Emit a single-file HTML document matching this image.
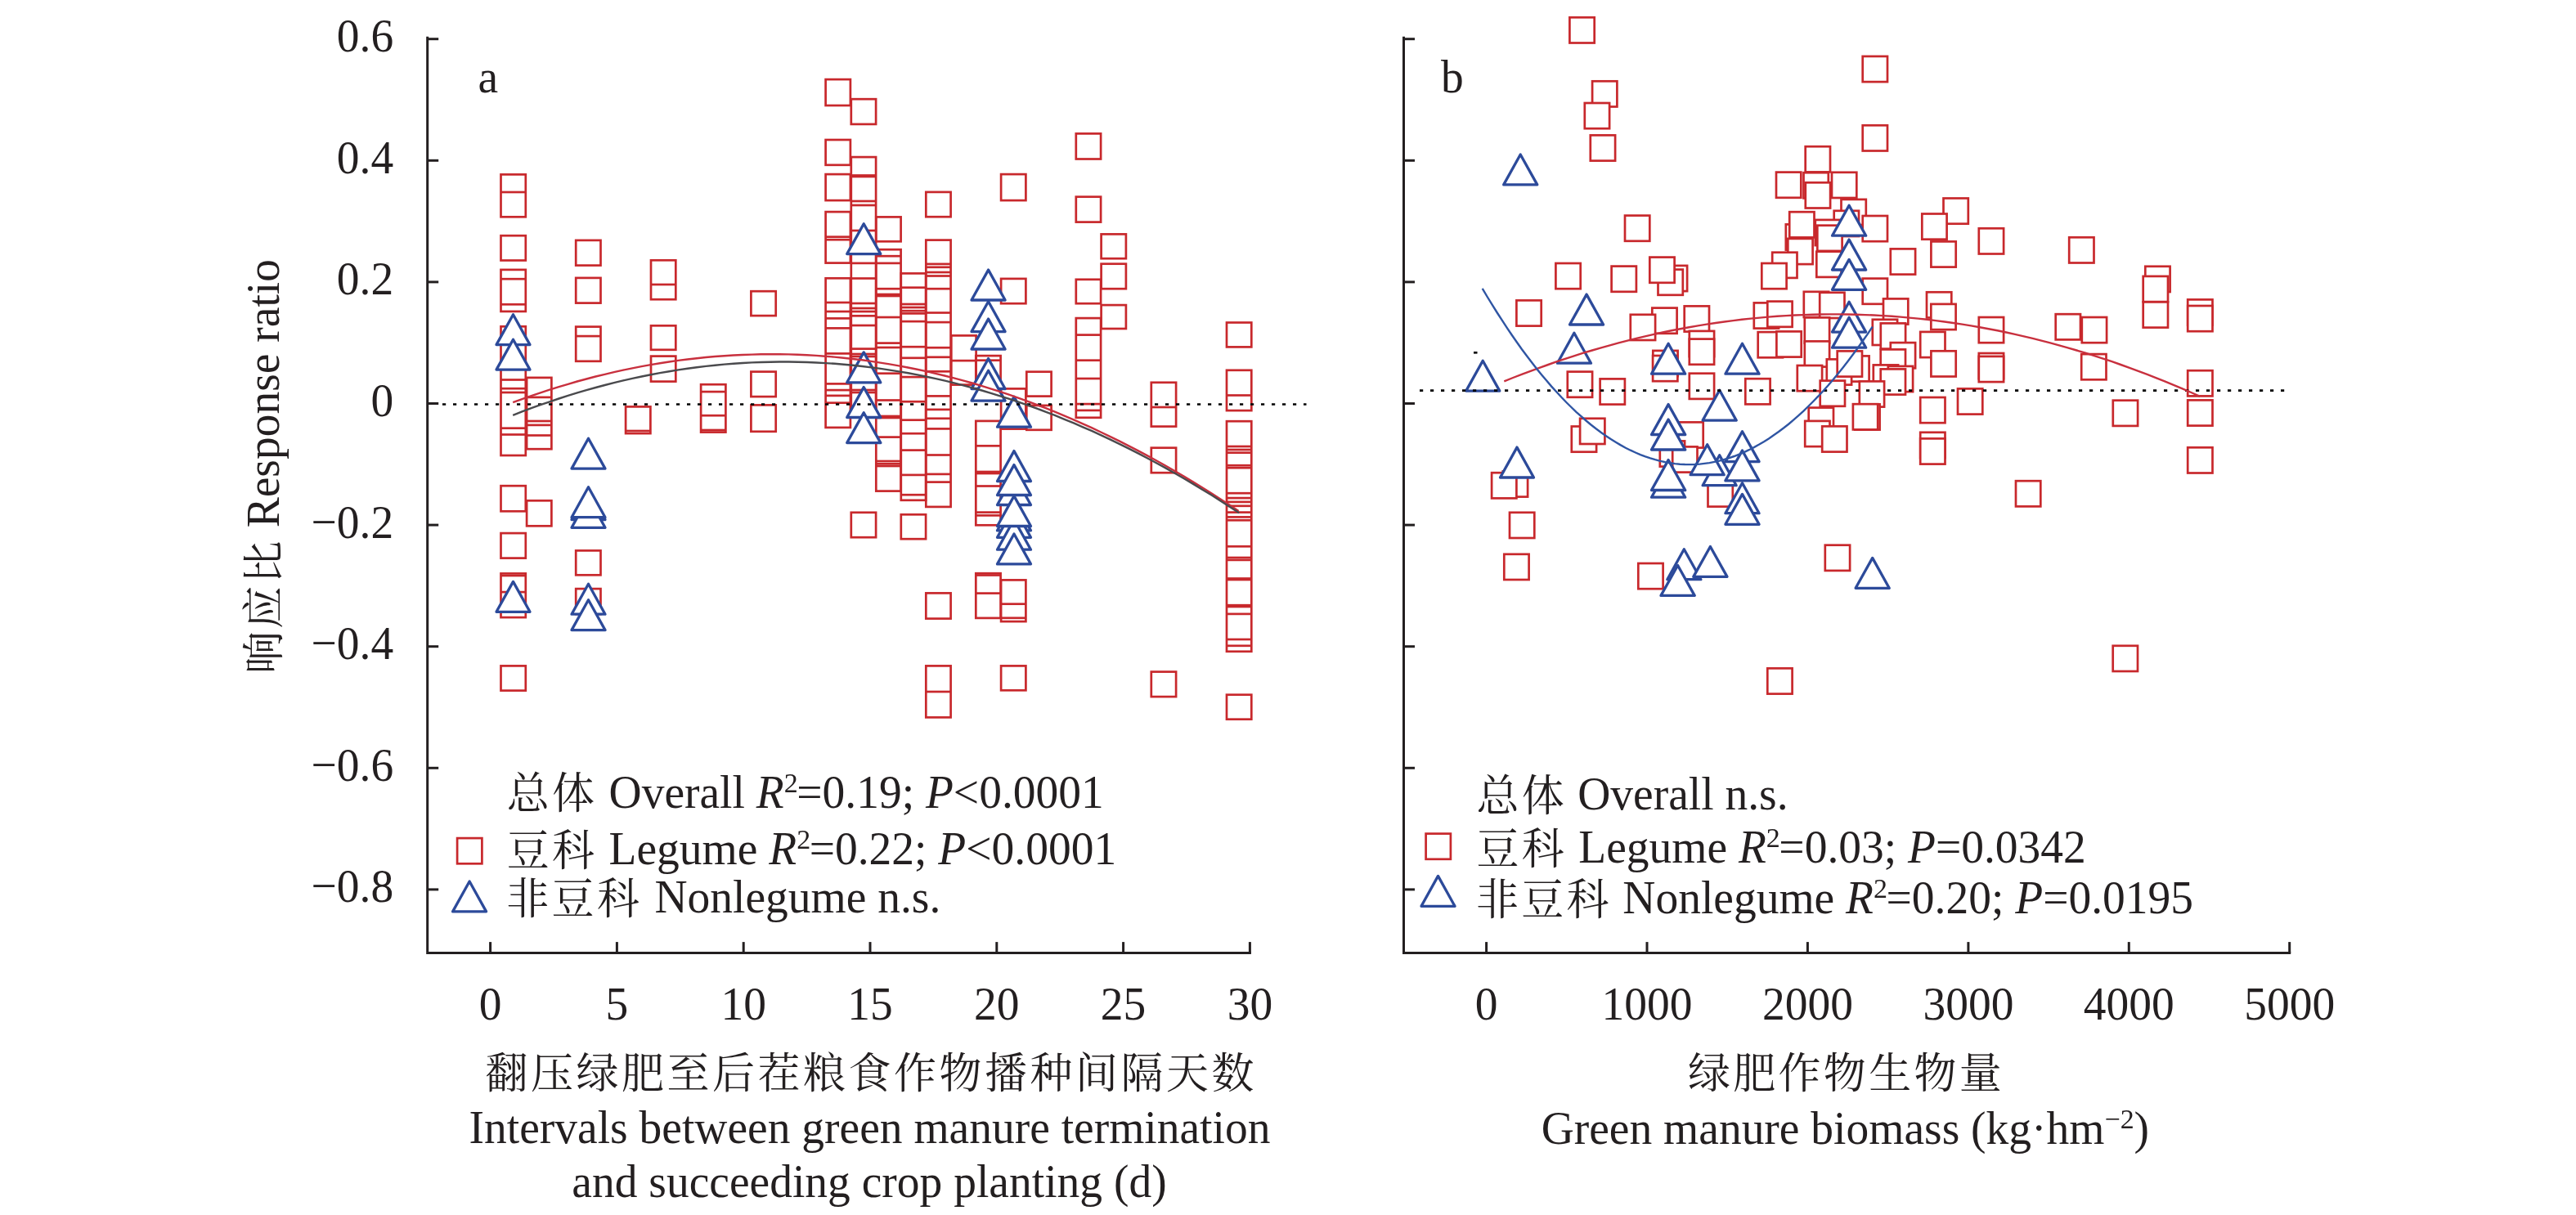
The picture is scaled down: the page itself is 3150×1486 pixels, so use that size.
<!DOCTYPE html>
<html><head><meta charset="utf-8"><title>Response ratio scatter plots</title>
<style>
html,body{margin:0;padding:0;background:#fff;}
svg{display:block;}
text{-webkit-font-smoothing:antialiased;}
svg{will-change:transform;}
.t{font-family:'Liberation Serif', 'Noto Serif CJK SC', serif;font-size:55.5px;fill:#231f20;}
.cjk{font-family:'Noto Serif CJK SC',serif;font-size:52px;letter-spacing:3.3px;}
</style></head><body>
<svg xmlns="http://www.w3.org/2000/svg" width="3150" height="1486" viewBox="0 0 3150 1486">
<rect width="3150" height="1486" fill="#fff"/>
<path d="M522.7 46.2 V1165.6 H1528.4" fill="none" stroke="#231f20" stroke-width="3.0" stroke-linecap="square"/>
<line x1="522.7" y1="47.7" x2="536.2" y2="47.7" stroke="#231f20" stroke-width="3.0"/>
<line x1="522.7" y1="196.3" x2="536.2" y2="196.3" stroke="#231f20" stroke-width="3.0"/>
<line x1="522.7" y1="344.9" x2="536.2" y2="344.9" stroke="#231f20" stroke-width="3.0"/>
<line x1="522.7" y1="493.5" x2="536.2" y2="493.5" stroke="#231f20" stroke-width="3.0"/>
<line x1="522.7" y1="642.1" x2="536.2" y2="642.1" stroke="#231f20" stroke-width="3.0"/>
<line x1="522.7" y1="790.7" x2="536.2" y2="790.7" stroke="#231f20" stroke-width="3.0"/>
<line x1="522.7" y1="939.3" x2="536.2" y2="939.3" stroke="#231f20" stroke-width="3.0"/>
<line x1="522.7" y1="1087.9" x2="536.2" y2="1087.9" stroke="#231f20" stroke-width="3.0"/>
<line x1="599.6" y1="1165.6" x2="599.6" y2="1152.1" stroke="#231f20" stroke-width="3.0"/>
<line x1="754.4" y1="1165.6" x2="754.4" y2="1152.1" stroke="#231f20" stroke-width="3.0"/>
<line x1="909.2" y1="1165.6" x2="909.2" y2="1152.1" stroke="#231f20" stroke-width="3.0"/>
<line x1="1064.0" y1="1165.6" x2="1064.0" y2="1152.1" stroke="#231f20" stroke-width="3.0"/>
<line x1="1218.8" y1="1165.6" x2="1218.8" y2="1152.1" stroke="#231f20" stroke-width="3.0"/>
<line x1="1373.6" y1="1165.6" x2="1373.6" y2="1152.1" stroke="#231f20" stroke-width="3.0"/>
<line x1="1528.4" y1="1165.6" x2="1528.4" y2="1152.1" stroke="#231f20" stroke-width="3.0"/>
<path d="M1716.5 46.2 V1165.6 H2799.7" fill="none" stroke="#231f20" stroke-width="3.0" stroke-linecap="square"/>
<line x1="1716.5" y1="47.7" x2="1730.0" y2="47.7" stroke="#231f20" stroke-width="3.0"/>
<line x1="1716.5" y1="196.3" x2="1730.0" y2="196.3" stroke="#231f20" stroke-width="3.0"/>
<line x1="1716.5" y1="344.9" x2="1730.0" y2="344.9" stroke="#231f20" stroke-width="3.0"/>
<line x1="1716.5" y1="493.5" x2="1730.0" y2="493.5" stroke="#231f20" stroke-width="3.0"/>
<line x1="1716.5" y1="642.1" x2="1730.0" y2="642.1" stroke="#231f20" stroke-width="3.0"/>
<line x1="1716.5" y1="790.7" x2="1730.0" y2="790.7" stroke="#231f20" stroke-width="3.0"/>
<line x1="1716.5" y1="939.3" x2="1730.0" y2="939.3" stroke="#231f20" stroke-width="3.0"/>
<line x1="1716.5" y1="1087.9" x2="1730.0" y2="1087.9" stroke="#231f20" stroke-width="3.0"/>
<line x1="1817.6" y1="1165.6" x2="1817.6" y2="1152.1" stroke="#231f20" stroke-width="3.0"/>
<line x1="2014.0" y1="1165.6" x2="2014.0" y2="1152.1" stroke="#231f20" stroke-width="3.0"/>
<line x1="2210.4" y1="1165.6" x2="2210.4" y2="1152.1" stroke="#231f20" stroke-width="3.0"/>
<line x1="2406.9" y1="1165.6" x2="2406.9" y2="1152.1" stroke="#231f20" stroke-width="3.0"/>
<line x1="2603.3" y1="1165.6" x2="2603.3" y2="1152.1" stroke="#231f20" stroke-width="3.0"/>
<line x1="2799.7" y1="1165.6" x2="2799.7" y2="1152.1" stroke="#231f20" stroke-width="3.0"/>
<text x="481.2" y="63.2" text-anchor="end" class="t" transform="matrix(1 0 0 1.045 0 -2.84)">0.6</text>
<text x="481.2" y="211.8" text-anchor="end" class="t" transform="matrix(1 0 0 1.045 0 -9.53)">0.4</text>
<text x="481.2" y="360.4" text-anchor="end" class="t" transform="matrix(1 0 0 1.045 0 -16.22)">0.2</text>
<text x="481.2" y="509.0" text-anchor="end" class="t" transform="matrix(1 0 0 1.045 0 -22.90)">0</text>
<text x="481.2" y="657.6" text-anchor="end" class="t" transform="matrix(1 0 0 1.045 0 -29.59)">−0.2</text>
<text x="481.2" y="806.2" text-anchor="end" class="t" transform="matrix(1 0 0 1.045 0 -36.28)">−0.4</text>
<text x="481.2" y="954.8" text-anchor="end" class="t" transform="matrix(1 0 0 1.045 0 -42.97)">−0.6</text>
<text x="481.2" y="1103.4" text-anchor="end" class="t" transform="matrix(1 0 0 1.045 0 -49.65)">−0.8</text>
<text x="599.6" y="1247.0" text-anchor="middle" class="t" transform="matrix(1 0 0 1.045 0 -56.11)">0</text>
<text x="754.4" y="1247.0" text-anchor="middle" class="t" transform="matrix(1 0 0 1.045 0 -56.11)">5</text>
<text x="909.2" y="1247.0" text-anchor="middle" class="t" transform="matrix(1 0 0 1.045 0 -56.11)">10</text>
<text x="1064.0" y="1247.0" text-anchor="middle" class="t" transform="matrix(1 0 0 1.045 0 -56.11)">15</text>
<text x="1218.8" y="1247.0" text-anchor="middle" class="t" transform="matrix(1 0 0 1.045 0 -56.11)">20</text>
<text x="1373.6" y="1247.0" text-anchor="middle" class="t" transform="matrix(1 0 0 1.045 0 -56.11)">25</text>
<text x="1528.4" y="1247.0" text-anchor="middle" class="t" transform="matrix(1 0 0 1.045 0 -56.11)">30</text>
<text x="1817.6" y="1247.0" text-anchor="middle" class="t" transform="matrix(1 0 0 1.045 0 -56.11)">0</text>
<text x="2014.0" y="1247.0" text-anchor="middle" class="t" transform="matrix(1 0 0 1.045 0 -56.11)">1000</text>
<text x="2210.4" y="1247.0" text-anchor="middle" class="t" transform="matrix(1 0 0 1.045 0 -56.11)">2000</text>
<text x="2406.9" y="1247.0" text-anchor="middle" class="t" transform="matrix(1 0 0 1.045 0 -56.11)">3000</text>
<text x="2603.3" y="1247.0" text-anchor="middle" class="t" transform="matrix(1 0 0 1.045 0 -56.11)">4000</text>
<text x="2799.7" y="1247.0" text-anchor="middle" class="t" transform="matrix(1 0 0 1.045 0 -56.11)">5000</text>
<text x="584.5" y="113.0" class="t" transform="matrix(1 0 0 1.045 0 -5.08)">a</text>
<text x="1762.0" y="113.0" class="t" transform="matrix(1 0 0 1.045 0 -5.08)">b</text>
<text transform="translate(340.5 824) rotate(-90) scale(1 1.01)" class="t"><tspan class="cjk">响应比</tspan><tspan dx="-1.0"> Response ratio</tspan></text>
<text x="1065.3" y="1331.0" text-anchor="middle" class="t" transform="matrix(1 0 0 1.0 0 -0.00)"><tspan class="cjk" style="letter-spacing:3.5px">翻压绿肥至后茬粮食作物播种间隔天数</tspan></text>
<text x="1063.5" y="1398.5" text-anchor="middle" class="t" transform="matrix(1 0 0 1.01 0 -13.99)">Intervals between green manure termination</text>
<text x="1063.0" y="1464.5" text-anchor="middle" class="t" transform="matrix(1 0 0 1.01 0 -14.65)">and succeeding crop planting (d)</text>
<text x="2257.5" y="1331.0" text-anchor="middle" class="t" transform="matrix(1 0 0 1.0 0 -0.00)"><tspan class="cjk">绿肥作物生物量</tspan></text>
<text x="2256.4" y="1399.0" text-anchor="middle" class="t" transform="matrix(1 0 0 1.01 0 -13.99)">Green manure biomass (kg·hm<tspan dy="-18.5" font-size="34">−2</tspan><tspan dy="18.5">)</tspan></text>
<text x="619.8" y="988.0" class="t" transform="matrix(1 0 0 1.02 0 -19.76)"><tspan class="cjk" dy="1">总体</tspan><tspan dx="0.3" dy="-1"> Overall </tspan><tspan font-style="italic">R</tspan><tspan dy="-19" font-size="34">2</tspan><tspan dy="19" dx="-1.5">=0.19; <tspan font-style="italic">P</tspan>&lt;0.0001</tspan></text>
<text x="619.8" y="1057.5" class="t" transform="matrix(1 0 0 1.02 0 -21.15)"><tspan class="cjk" dy="1">豆科</tspan><tspan dx="0.3" dy="-1"> Legume </tspan><tspan font-style="italic">R</tspan><tspan dy="-19" font-size="34">2</tspan><tspan dy="19" dx="-1.5">=0.22; <tspan font-style="italic">P</tspan>&lt;0.0001</tspan></text>
<text x="619.3" y="1116.5" class="t" transform="matrix(1 0 0 1.02 0 -22.33)"><tspan class="cjk" dy="1">非豆科</tspan><tspan dx="1.4" dy="-1"> Nonlegume n.s.</tspan></text>
<text x="1805.5" y="990.5" class="t" transform="matrix(1 0 0 1.02 0 -19.81)"><tspan class="cjk" dy="1">总体</tspan><tspan dx="-0.7" dy="-1"> Overall n.s.</tspan></text>
<text x="1805.5" y="1055.5" class="t" transform="matrix(1 0 0 1.02 0 -21.11)"><tspan class="cjk" dy="1">豆科</tspan><tspan dx="0.3" dy="-1"> Legume </tspan><tspan font-style="italic">R</tspan><tspan dy="-19" font-size="34">2</tspan><tspan dy="19" dx="-1.5">=0.03; <tspan font-style="italic">P</tspan>=0.0342</tspan></text>
<text x="1805.0" y="1117.5" class="t" transform="matrix(1 0 0 1.02 0 -22.35)"><tspan class="cjk" dy="1">非豆科</tspan><tspan dx="-0.4" dy="-1"> Nonlegume </tspan><tspan font-style="italic">R</tspan><tspan dy="-19" font-size="34">2</tspan><tspan dy="19" dx="-1.5">=0.20; <tspan font-style="italic">P</tspan>=0.0195</tspan></text>
<g fill="none" stroke="#c8282c" stroke-width="2.7"><rect x="612.5" y="213.4" width="30.3" height="51.9"/><path d="M612.5 235.0H642.8"/><rect x="612.5" y="288.2" width="30.3" height="30.3"/><rect x="612.5" y="329.9" width="30.3" height="51.0"/><path d="M612.5 341.2H642.8"/><path d="M612.5 372.3H642.8"/><rect x="612.5" y="399.3" width="30.3" height="157.7"/><path d="M612.5 464.5H642.8"/><path d="M612.5 475.2H642.8"/><path d="M612.5 480.0H642.8"/><path d="M612.5 523.7H642.8"/><path d="M612.5 531.5H642.8"/><rect x="612.5" y="594.2" width="30.3" height="31.1"/><rect x="612.5" y="652.1" width="30.3" height="30.5"/><rect x="612.5" y="701.4" width="30.3" height="53.7"/><path d="M612.5 704.0H642.8"/><path d="M612.5 724.1H642.8"/><rect x="612.5" y="814.4" width="30.3" height="30.2"/></g>
<g fill="none" stroke="#c8282c" stroke-width="2.7"><rect x="644.1" y="461.9" width="30.3" height="87.3"/><path d="M644.1 485.9H674.4"/><path d="M644.1 515.0H674.4"/><path d="M644.1 519.9H674.4"/><path d="M644.1 532.5H674.4"/><rect x="644.1" y="612.3" width="30.3" height="31.0"/></g>
<g fill="none" stroke="#c8282c" stroke-width="2.7"><rect x="704.2" y="293.9" width="30.3" height="30.7"/><rect x="704.2" y="339.9" width="30.3" height="30.7"/><rect x="704.2" y="399.6" width="30.3" height="42.2"/><path d="M704.2 411.1H734.5"/><rect x="704.2" y="673.4" width="30.3" height="29.9"/><rect x="704.2" y="720.1" width="30.3" height="31.0"/></g>
<g fill="none" stroke="#c8282c" stroke-width="2.7"><rect x="765.1" y="497.4" width="30.3" height="32.7"/><path d="M765.1 527.0H795.4"/></g>
<g fill="none" stroke="#c8282c" stroke-width="2.7"><rect x="796.0" y="318.3" width="30.3" height="47.9"/><path d="M796.0 348.0H826.2"/><rect x="796.0" y="398.3" width="30.3" height="29.5"/><rect x="796.0" y="435.6" width="30.3" height="31.0"/></g>
<g fill="none" stroke="#c8282c" stroke-width="2.7"><rect x="857.1" y="470.2" width="30.3" height="58.4"/><path d="M857.1 479.1H887.4"/><path d="M857.1 508.2H887.4"/><path d="M857.1 526.0H887.4"/></g>
<g fill="none" stroke="#c8282c" stroke-width="2.7"><rect x="918.4" y="356.2" width="30.3" height="29.9"/><rect x="918.4" y="454.6" width="30.3" height="30.5"/><rect x="918.4" y="495.4" width="30.3" height="32.4"/></g>
<g fill="none" stroke="#c8282c" stroke-width="2.7"><rect x="1009.6" y="97.1" width="30.3" height="31.9"/><rect x="1009.6" y="171.0" width="30.3" height="30.8"/><rect x="1009.6" y="213.1" width="30.3" height="32.0"/><rect x="1009.6" y="259.1" width="30.3" height="62.5"/><path d="M1009.6 289.7H1040.0"/><path d="M1009.6 293.2H1040.0"/><rect x="1009.6" y="340.3" width="30.3" height="182.6"/><path d="M1009.6 370.0H1040.0"/><path d="M1009.6 381.0H1040.0"/><path d="M1009.6 389.4H1040.0"/><path d="M1009.6 401.4H1040.0"/><path d="M1009.6 432.4H1040.0"/><path d="M1009.6 469.4H1040.0"/><path d="M1009.6 477.1H1040.0"/><path d="M1009.6 483.9H1040.0"/><path d="M1009.6 492.7H1040.0"/></g>
<g fill="none" stroke="#c8282c" stroke-width="2.7"><rect x="1040.8" y="121.2" width="30.3" height="30.7"/><rect x="1040.8" y="192.1" width="30.3" height="318.5"/><path d="M1040.8 214.5H1071.1"/><path d="M1040.8 216.0H1071.1"/><path d="M1040.8 246.0H1071.1"/><path d="M1040.8 251.0H1071.1"/><path d="M1040.8 282.0H1071.1"/><path d="M1040.8 309.3H1071.1"/><path d="M1040.8 321.9H1071.1"/><path d="M1040.8 340.5H1071.1"/><path d="M1040.8 371.0H1071.1"/><path d="M1040.8 377.0H1071.1"/><path d="M1040.8 381.0H1071.1"/><path d="M1040.8 386.3H1071.1"/><path d="M1040.8 398.0H1071.1"/><path d="M1040.8 426.6H1071.1"/><path d="M1040.8 433.0H1071.1"/><path d="M1040.8 436.0H1071.1"/><path d="M1040.8 477.0H1071.1"/><path d="M1040.8 480.0H1071.1"/><rect x="1040.8" y="626.8" width="30.3" height="30.4"/></g>
<g fill="none" stroke="#c8282c" stroke-width="2.7"><rect x="1071.3" y="265.4" width="30.3" height="29.9"/><rect x="1071.3" y="305.2" width="30.3" height="295.4"/><path d="M1071.3 313.2H1101.7"/><path d="M1071.3 321.9H1101.7"/><path d="M1071.3 353.2H1101.7"/><path d="M1071.3 360.0H1101.7"/><path d="M1071.3 362.0H1101.7"/><path d="M1071.3 388.0H1101.7"/><path d="M1071.3 419.6H1101.7"/><path d="M1071.3 425.0H1101.7"/><path d="M1071.3 456.7H1101.7"/><path d="M1071.3 489.5H1101.7"/><path d="M1071.3 509.0H1101.7"/><path d="M1071.3 511.0H1101.7"/><path d="M1071.3 534.6H1101.7"/><path d="M1071.3 564.0H1101.7"/><path d="M1071.3 567.3H1101.7"/><path d="M1071.3 570.0H1101.7"/></g>
<g fill="none" stroke="#c8282c" stroke-width="2.7"><rect x="1101.8" y="334.4" width="30.3" height="277.4"/><path d="M1101.8 351.7H1132.2"/><path d="M1101.8 372.0H1132.2"/><path d="M1101.8 376.0H1132.2"/><path d="M1101.8 380.2H1132.2"/><path d="M1101.8 383.4H1132.2"/><path d="M1101.8 393.1H1132.2"/><path d="M1101.8 424.2H1132.2"/><path d="M1101.8 437.8H1132.2"/><path d="M1101.8 461.1H1132.2"/><path d="M1101.8 491.2H1132.2"/><path d="M1101.8 513.7H1132.2"/><path d="M1101.8 530.2H1132.2"/><path d="M1101.8 550.6H1132.2"/><path d="M1101.8 580.9H1132.2"/><path d="M1101.8 605.2H1132.2"/><rect x="1101.8" y="629.3" width="30.3" height="29.9"/></g>
<g fill="none" stroke="#c8282c" stroke-width="2.7"><rect x="1132.3" y="234.9" width="30.3" height="30.3"/><rect x="1132.3" y="293.6" width="30.3" height="326.3"/><path d="M1132.3 322.9H1162.7"/><path d="M1132.3 326.8H1162.7"/><path d="M1132.3 333.0H1162.7"/><path d="M1132.3 337.5H1162.7"/><path d="M1132.3 353.2H1162.7"/><path d="M1132.3 382.5H1162.7"/><path d="M1132.3 394.1H1162.7"/><path d="M1132.3 425.2H1162.7"/><path d="M1132.3 436.8H1162.7"/><path d="M1132.3 454.3H1162.7"/><path d="M1132.3 484.4H1162.7"/><path d="M1132.3 500.9H1162.7"/><path d="M1132.3 511.8H1162.7"/><path d="M1132.3 524.4H1162.7"/><path d="M1132.3 556.5H1162.7"/><path d="M1132.3 579.9H1162.7"/><path d="M1132.3 589.6H1162.7"/><rect x="1132.3" y="725.4" width="30.3" height="31.2"/><rect x="1132.3" y="814.4" width="30.3" height="63.0"/><path d="M1132.3 846.0H1162.7"/></g>
<g fill="none" stroke="#c8282c" stroke-width="2.7"><rect x="1163.3" y="410.4" width="30.3" height="60.2"/><path d="M1163.3 441.1H1193.7"/></g>
<g fill="none" stroke="#c8282c" stroke-width="2.7"><rect x="1193.3" y="435.1" width="30.3" height="35.5"/><path d="M1193.3 440.7H1223.7"/><rect x="1193.3" y="514.9" width="30.3" height="127.4"/><path d="M1193.3 545.3H1223.7"/><path d="M1193.3 577.0H1223.7"/><path d="M1193.3 579.0H1223.7"/><path d="M1193.3 594.5H1223.7"/><path d="M1193.3 626.6H1223.7"/><path d="M1193.3 630.4H1223.7"/><rect x="1193.3" y="701.2" width="30.3" height="54.7"/><path d="M1193.3 703.5H1223.7"/><path d="M1193.3 725.6H1223.7"/></g>
<g fill="none" stroke="#c8282c" stroke-width="2.7"><rect x="1224.1" y="213.1" width="30.3" height="32.0"/><rect x="1224.1" y="340.9" width="30.3" height="30.3"/><rect x="1224.1" y="475.4" width="30.3" height="49.2"/><rect x="1224.1" y="709.4" width="30.3" height="50.7"/><path d="M1224.1 738.7H1254.5"/><path d="M1224.1 755.8H1254.5"/><rect x="1224.1" y="814.4" width="30.3" height="29.9"/></g>
<g fill="none" stroke="#c8282c" stroke-width="2.7"><rect x="1255.3" y="454.7" width="30.3" height="29.9"/><rect x="1255.3" y="495.9" width="30.3" height="29.9"/></g>
<g fill="none" stroke="#c8282c" stroke-width="2.7"><rect x="1315.8" y="163.4" width="30.3" height="31.1"/><rect x="1315.8" y="240.7" width="30.3" height="30.9"/><rect x="1315.8" y="341.8" width="30.3" height="29.4"/><rect x="1315.8" y="389.1" width="30.3" height="121.7"/><path d="M1315.8 409.6H1346.1"/><path d="M1315.8 440.7H1346.1"/><path d="M1315.8 463.0H1346.1"/><path d="M1315.8 494.1H1346.1"/><path d="M1315.8 501.9H1346.1"/></g>
<g fill="none" stroke="#c8282c" stroke-width="2.7"><rect x="1346.6" y="286.4" width="30.3" height="29.8"/><rect x="1346.6" y="322.7" width="30.3" height="30.5"/><rect x="1346.6" y="373.1" width="30.3" height="28.9"/></g>
<g fill="none" stroke="#c8282c" stroke-width="2.7"><rect x="1407.8" y="467.8" width="30.3" height="53.8"/><path d="M1407.8 498.0H1438.2"/><rect x="1407.8" y="547.7" width="30.3" height="30.5"/><rect x="1407.8" y="821.6" width="30.3" height="30.5"/></g>
<g fill="none" stroke="#c8282c" stroke-width="2.7"><rect x="1500.0" y="394.5" width="30.3" height="29.9"/><rect x="1500.0" y="452.8" width="30.3" height="49.3"/><path d="M1500.0 483.5H1530.4"/><rect x="1500.0" y="515.2" width="30.3" height="281.6"/><path d="M1500.0 546.0H1530.4"/><path d="M1500.0 550.0H1530.4"/><path d="M1500.0 553.7H1530.4"/><path d="M1500.0 569.2H1530.4"/><path d="M1500.0 572.2H1530.4"/><path d="M1500.0 603.2H1530.4"/><path d="M1500.0 609.1H1530.4"/><path d="M1500.0 613.9H1530.4"/><path d="M1500.0 618.8H1530.4"/><path d="M1500.0 626.6H1530.4"/><path d="M1500.0 632.4H1530.4"/><path d="M1500.0 636.3H1530.4"/><path d="M1500.0 668.3H1530.4"/><path d="M1500.0 682.0H1530.4"/><path d="M1500.0 684.9H1530.4"/><path d="M1500.0 707.5H1530.4"/><path d="M1500.0 709.0H1530.4"/><path d="M1500.0 740.2H1530.4"/><path d="M1500.0 742.0H1530.4"/><path d="M1500.0 750.9H1530.4"/><path d="M1500.0 782.0H1530.4"/><path d="M1500.0 789.8H1530.4"/><rect x="1500.0" y="849.7" width="30.3" height="30.0"/></g>
<g fill="#fff" stroke="#2c4a9a" stroke-width="3.3" stroke-linejoin="round"><path d="M627.5 384.7L648.0 421.6H607.0Z"/><path d="M627.5 415.2L648.0 452.1H607.0Z"/><path d="M627.5 711.4L648.0 748.3H607.0Z"/><path d="M719.5 536.2L740.0 573.1H699.0Z"/><path d="M719.5 598.7L740.0 635.6H699.0Z"/><path d="M719.5 608.4L740.0 645.3H699.0Z"/><path d="M719.5 595.8L740.0 632.7H699.0Z"/><path d="M719.5 714.3L740.0 751.2H699.0Z"/><path d="M719.5 733.7L740.0 770.6H699.0Z"/><path d="M1056.2 273.7L1076.8 310.6H1035.7Z"/><path d="M1056.2 430.9L1076.8 467.8H1035.7Z"/><path d="M1056.2 473.6L1076.8 510.5H1035.7Z"/><path d="M1056.2 504.7L1076.8 541.6H1035.7Z"/><path d="M1208.6 330.1L1229.1 367.0H1188.0Z"/><path d="M1208.6 368.7L1229.1 405.6H1188.0Z"/><path d="M1208.6 390.1L1229.1 427.0H1188.0Z"/><path d="M1208.6 438.6L1229.1 475.5H1188.0Z"/><path d="M1208.6 453.2L1229.1 490.1H1188.0Z"/><path d="M1240.0 485.3L1260.5 522.2H1219.5Z"/><path d="M1240.0 551.6L1260.5 588.5H1219.5Z"/><path d="M1240.0 580.6L1260.5 617.5H1219.5Z"/><path d="M1240.0 568.6L1260.5 605.5H1219.5Z"/><path d="M1240.0 612.0L1260.5 648.9H1219.5Z"/><path d="M1240.0 620.4L1260.5 657.3H1219.5Z"/><path d="M1240.0 635.3L1260.5 672.2H1219.5Z"/><path d="M1240.0 606.6L1260.5 643.5H1219.5Z"/><path d="M1240.0 653.0L1260.5 689.9H1219.5Z"/></g>
<g fill="#fff" stroke="#c8282c" stroke-width="2.7"><rect x="1919.4" y="21.3" width="30.3" height="31.2"/></g>
<g fill="#fff" stroke="#c8282c" stroke-width="2.7"><rect x="2277.7" y="68.9" width="30.3" height="31.2"/></g>
<g fill="#fff" stroke="#c8282c" stroke-width="2.7"><rect x="1947.1" y="99.3" width="30.3" height="31.2"/></g>
<g fill="#fff" stroke="#c8282c" stroke-width="2.7"><rect x="1937.8" y="126.0" width="30.3" height="31.2"/></g>
<g fill="#fff" stroke="#c8282c" stroke-width="2.7"><rect x="2277.7" y="153.3" width="30.3" height="31.2"/></g>
<g fill="#fff" stroke="#c8282c" stroke-width="2.7"><rect x="1944.8" y="165.4" width="30.3" height="31.2"/></g>
<g fill="#fff" stroke="#c8282c" stroke-width="2.7"><rect x="2207.7" y="179.2" width="30.3" height="31.2"/></g>
<g fill="#fff" stroke="#c8282c" stroke-width="2.7"><rect x="2172.0" y="210.6" width="30.3" height="31.2"/></g>
<g fill="#fff" stroke="#c8282c" stroke-width="2.7"><rect x="2251.5" y="243.9" width="30.3" height="31.2"/></g>
<g fill="#fff" stroke="#c8282c" stroke-width="2.7"><rect x="2240.0" y="210.8" width="30.3" height="31.2"/></g>
<g fill="#fff" stroke="#c8282c" stroke-width="2.7"><rect x="2205.5" y="211.2" width="30.3" height="31.2"/></g>
<g fill="#fff" stroke="#c8282c" stroke-width="2.7"><rect x="2207.8" y="223.3" width="30.3" height="31.2"/></g>
<g fill="#fff" stroke="#c8282c" stroke-width="2.7"><rect x="2242.7" y="257.8" width="30.3" height="31.2"/></g>
<g fill="#fff" stroke="#c8282c" stroke-width="2.7"><rect x="2376.5" y="242.5" width="30.3" height="31.2"/></g>
<g fill="#fff" stroke="#c8282c" stroke-width="2.7"><rect x="2350.3" y="261.5" width="30.3" height="31.2"/></g>
<g fill="#fff" stroke="#c8282c" stroke-width="2.7"><rect x="2183.8" y="274.4" width="30.3" height="31.2"/></g>
<g fill="#fff" stroke="#c8282c" stroke-width="2.7"><rect x="2188.2" y="259.2" width="30.3" height="31.2"/></g>
<g fill="#fff" stroke="#c8282c" stroke-width="2.7"><rect x="1987.0" y="263.6" width="30.3" height="31.2"/></g>
<g fill="#fff" stroke="#c8282c" stroke-width="2.7"><rect x="2277.7" y="264.0" width="30.3" height="31.2"/></g>
<g fill="#fff" stroke="#c8282c" stroke-width="2.7"><rect x="2219.8" y="268.9" width="30.3" height="31.2"/></g>
<g fill="#fff" stroke="#c8282c" stroke-width="2.7"><rect x="2222.3" y="275.7" width="30.3" height="31.2"/></g>
<g fill="#fff" stroke="#c8282c" stroke-width="2.7"><rect x="2419.8" y="279.3" width="30.3" height="31.2"/></g>
<g fill="#fff" stroke="#c8282c" stroke-width="2.7"><rect x="2530.2" y="290.3" width="30.3" height="31.2"/></g>
<g fill="#fff" stroke="#c8282c" stroke-width="2.7"><rect x="2186.3" y="291.9" width="30.3" height="31.2"/></g>
<g fill="#fff" stroke="#c8282c" stroke-width="2.7"><rect x="2361.4" y="295.4" width="30.3" height="31.2"/></g>
<g fill="#fff" stroke="#c8282c" stroke-width="2.7"><rect x="2311.8" y="304.4" width="30.3" height="31.2"/></g>
<g fill="#fff" stroke="#c8282c" stroke-width="2.7"><rect x="2221.3" y="307.7" width="30.3" height="31.2"/></g>
<g fill="#fff" stroke="#c8282c" stroke-width="2.7"><rect x="2167.2" y="308.7" width="30.3" height="31.2"/></g>
<g fill="#fff" stroke="#c8282c" stroke-width="2.7"><rect x="2154.3" y="322.0" width="30.3" height="31.2"/></g>
<g fill="#fff" stroke="#c8282c" stroke-width="2.7"><rect x="1902.4" y="322.0" width="30.3" height="31.2"/></g>
<g fill="#fff" stroke="#c8282c" stroke-width="2.7"><rect x="1970.6" y="325.6" width="30.3" height="31.2"/></g>
<g fill="#fff" stroke="#c8282c" stroke-width="2.7"><rect x="2032.8" y="324.9" width="30.3" height="31.2"/></g>
<g fill="#fff" stroke="#c8282c" stroke-width="2.7"><rect x="2027.5" y="329.6" width="30.3" height="31.2"/></g>
<g fill="#fff" stroke="#c8282c" stroke-width="2.7"><rect x="2017.3" y="314.6" width="30.3" height="31.2"/></g>
<g fill="#fff" stroke="#c8282c" stroke-width="2.7"><rect x="2623.3" y="325.8" width="30.3" height="31.2"/></g>
<g fill="#fff" stroke="#c8282c" stroke-width="2.7"><rect x="2620.7" y="337.9" width="30.3" height="31.2"/></g>
<g fill="#fff" stroke="#c8282c" stroke-width="2.7"><rect x="2277.7" y="340.6" width="30.3" height="31.2"/></g>
<g fill="#fff" stroke="#c8282c" stroke-width="2.7"><rect x="2205.8" y="356.8" width="30.3" height="31.2"/></g>
<g fill="#fff" stroke="#c8282c" stroke-width="2.7"><rect x="2225.2" y="357.8" width="30.3" height="31.2"/></g>
<g fill="#fff" stroke="#c8282c" stroke-width="2.7"><rect x="2356.0" y="357.3" width="30.3" height="31.2"/></g>
<g fill="#fff" stroke="#c8282c" stroke-width="2.7"><rect x="2675.2" y="366.4" width="30.3" height="31.2"/></g>
<g fill="#fff" stroke="#c8282c" stroke-width="2.7"><rect x="2675.2" y="374.0" width="30.3" height="31.2"/></g>
<g fill="#fff" stroke="#c8282c" stroke-width="2.7"><rect x="2303.0" y="365.4" width="30.3" height="31.2"/></g>
<g fill="#fff" stroke="#c8282c" stroke-width="2.7"><rect x="1854.4" y="367.4" width="30.3" height="31.2"/></g>
<g fill="#fff" stroke="#c8282c" stroke-width="2.7"><rect x="2620.7" y="369.4" width="30.3" height="31.2"/></g>
<g fill="#fff" stroke="#c8282c" stroke-width="2.7"><rect x="2144.8" y="370.4" width="30.3" height="31.2"/></g>
<g fill="#fff" stroke="#c8282c" stroke-width="2.7"><rect x="2161.3" y="368.6" width="30.3" height="31.2"/></g>
<g fill="#fff" stroke="#c8282c" stroke-width="2.7"><rect x="2361.3" y="371.9" width="30.3" height="31.2"/></g>
<g fill="#fff" stroke="#c8282c" stroke-width="2.7"><rect x="2059.7" y="374.4" width="30.3" height="31.2"/></g>
<g fill="#fff" stroke="#c8282c" stroke-width="2.7"><rect x="2020.3" y="376.6" width="30.3" height="31.2"/></g>
<g fill="#fff" stroke="#c8282c" stroke-width="2.7"><rect x="2513.7" y="384.2" width="30.3" height="31.2"/></g>
<g fill="#fff" stroke="#c8282c" stroke-width="2.7"><rect x="1993.8" y="384.8" width="30.3" height="31.2"/></g>
<g fill="#fff" stroke="#c8282c" stroke-width="2.7"><rect x="2419.8" y="388.0" width="30.3" height="31.2"/></g>
<g fill="#fff" stroke="#c8282c" stroke-width="2.7"><rect x="2545.8" y="388.0" width="30.3" height="31.2"/></g>
<g fill="#fff" stroke="#c8282c" stroke-width="2.7"><rect x="2206.8" y="388.4" width="30.3" height="31.2"/></g>
<g fill="#fff" stroke="#c8282c" stroke-width="2.7"><rect x="2289.8" y="390.8" width="30.3" height="31.2"/></g>
<g fill="#fff" stroke="#c8282c" stroke-width="2.7"><rect x="2299.8" y="395.4" width="30.3" height="31.2"/></g>
<g fill="#fff" stroke="#c8282c" stroke-width="2.7"><rect x="2065.8" y="404.9" width="30.3" height="31.2"/></g>
<g fill="#fff" stroke="#c8282c" stroke-width="2.7"><rect x="2149.7" y="406.1" width="30.3" height="31.2"/></g>
<g fill="#fff" stroke="#c8282c" stroke-width="2.7"><rect x="2172.4" y="405.4" width="30.3" height="31.2"/></g>
<g fill="#fff" stroke="#c8282c" stroke-width="2.7"><rect x="2348.2" y="405.9" width="30.3" height="31.2"/></g>
<g fill="#fff" stroke="#c8282c" stroke-width="2.7"><rect x="2065.8" y="414.6" width="30.3" height="31.2"/></g>
<g fill="#fff" stroke="#c8282c" stroke-width="2.7"><rect x="2206.8" y="417.4" width="30.3" height="31.2"/></g>
<g fill="#fff" stroke="#c8282c" stroke-width="2.7"><rect x="2255.3" y="435.4" width="30.3" height="31.2"/></g>
<g fill="#fff" stroke="#c8282c" stroke-width="2.7"><rect x="2311.8" y="419.1" width="30.3" height="31.2"/></g>
<g fill="#fff" stroke="#c8282c" stroke-width="2.7"><rect x="2299.7" y="427.4" width="30.3" height="31.2"/></g>
<g fill="#fff" stroke="#c8282c" stroke-width="2.7"><rect x="2021.3" y="428.9" width="30.3" height="31.2"/></g>
<g fill="#fff" stroke="#c8282c" stroke-width="2.7"><rect x="2361.4" y="429.3" width="30.3" height="31.2"/></g>
<g fill="#fff" stroke="#c8282c" stroke-width="2.7"><rect x="2233.8" y="439.4" width="30.3" height="31.2"/></g>
<g fill="#fff" stroke="#c8282c" stroke-width="2.7"><rect x="2246.7" y="429.4" width="30.3" height="31.2"/></g>
<g fill="#fff" stroke="#c8282c" stroke-width="2.7"><rect x="2290.8" y="446.4" width="30.3" height="31.2"/></g>
<g fill="#fff" stroke="#c8282c" stroke-width="2.7"><rect x="2308.8" y="447.9" width="30.3" height="31.2"/></g>
<g fill="#fff" stroke="#c8282c" stroke-width="2.7"><rect x="2419.8" y="432.0" width="30.3" height="31.2"/></g>
<g fill="#fff" stroke="#c8282c" stroke-width="2.7"><rect x="2419.8" y="435.9" width="30.3" height="31.2"/></g>
<g fill="#fff" stroke="#c8282c" stroke-width="2.7"><rect x="2545.2" y="433.1" width="30.3" height="31.2"/></g>
<g fill="#fff" stroke="#c8282c" stroke-width="2.7"><rect x="2021.1" y="435.0" width="30.3" height="31.2"/></g>
<g fill="#fff" stroke="#c8282c" stroke-width="2.7"><rect x="2197.8" y="447.0" width="30.3" height="31.2"/></g>
<g fill="#fff" stroke="#c8282c" stroke-width="2.7"><rect x="2299.7" y="451.4" width="30.3" height="31.2"/></g>
<g fill="#fff" stroke="#c8282c" stroke-width="2.7"><rect x="2675.2" y="453.2" width="30.3" height="31.2"/></g>
<g fill="#fff" stroke="#c8282c" stroke-width="2.7"><rect x="1916.8" y="454.6" width="30.3" height="31.2"/></g>
<g fill="#fff" stroke="#c8282c" stroke-width="2.7"><rect x="2065.8" y="456.7" width="30.3" height="31.2"/></g>
<g fill="#fff" stroke="#c8282c" stroke-width="2.7"><rect x="2134.3" y="463.2" width="30.3" height="31.2"/></g>
<g fill="#fff" stroke="#c8282c" stroke-width="2.7"><rect x="1956.6" y="463.4" width="30.3" height="31.2"/></g>
<g fill="#fff" stroke="#c8282c" stroke-width="2.7"><rect x="2225.7" y="465.6" width="30.3" height="31.2"/></g>
<g fill="#fff" stroke="#c8282c" stroke-width="2.7"><rect x="2273.8" y="466.4" width="30.3" height="31.2"/></g>
<g fill="#fff" stroke="#c8282c" stroke-width="2.7"><rect x="2394.0" y="475.4" width="30.3" height="31.2"/></g>
<g fill="#fff" stroke="#c8282c" stroke-width="2.7"><rect x="2348.2" y="486.0" width="30.3" height="31.2"/></g>
<g fill="#fff" stroke="#c8282c" stroke-width="2.7"><rect x="2675.2" y="489.4" width="30.3" height="31.2"/></g>
<g fill="#fff" stroke="#c8282c" stroke-width="2.7"><rect x="2583.8" y="489.7" width="30.3" height="31.2"/></g>
<g fill="#fff" stroke="#c8282c" stroke-width="2.7"><rect x="2268.3" y="494.4" width="30.3" height="31.2"/></g>
<g fill="#fff" stroke="#c8282c" stroke-width="2.7"><rect x="2265.9" y="494.2" width="30.3" height="31.2"/></g>
<g fill="#fff" stroke="#c8282c" stroke-width="2.7"><rect x="2211.7" y="498.6" width="30.3" height="31.2"/></g>
<g fill="#fff" stroke="#c8282c" stroke-width="2.7"><rect x="2207.2" y="514.9" width="30.3" height="31.2"/></g>
<g fill="#fff" stroke="#c8282c" stroke-width="2.7"><rect x="2052.4" y="516.4" width="30.3" height="31.2"/></g>
<g fill="#fff" stroke="#c8282c" stroke-width="2.7"><rect x="1921.8" y="521.5" width="30.3" height="31.2"/></g>
<g fill="#fff" stroke="#c8282c" stroke-width="2.7"><rect x="1932.1" y="511.8" width="30.3" height="31.2"/></g>
<g fill="#fff" stroke="#c8282c" stroke-width="2.7"><rect x="2228.2" y="521.4" width="30.3" height="31.2"/></g>
<g fill="#fff" stroke="#c8282c" stroke-width="2.7"><rect x="2348.2" y="528.8" width="30.3" height="31.2"/></g>
<g fill="#fff" stroke="#c8282c" stroke-width="2.7"><rect x="2348.2" y="536.4" width="30.3" height="31.2"/></g>
<g fill="#fff" stroke="#c8282c" stroke-width="2.7"><rect x="2029.8" y="539.4" width="30.3" height="31.2"/></g>
<g fill="#fff" stroke="#c8282c" stroke-width="2.7"><rect x="2045.2" y="546.4" width="30.3" height="31.2"/></g>
<g fill="#fff" stroke="#c8282c" stroke-width="2.7"><rect x="2675.2" y="547.3" width="30.3" height="31.2"/></g>
<g fill="#fff" stroke="#c8282c" stroke-width="2.7"><rect x="1837.8" y="576.4" width="30.3" height="31.2"/></g>
<g fill="#fff" stroke="#c8282c" stroke-width="2.7"><rect x="1824.1" y="578.2" width="30.3" height="31.2"/></g>
<g fill="#fff" stroke="#c8282c" stroke-width="2.7"><rect x="2465.0" y="588.2" width="30.3" height="31.2"/></g>
<g fill="#fff" stroke="#c8282c" stroke-width="2.7"><rect x="2088.5" y="588.4" width="30.3" height="31.2"/></g>
<g fill="#fff" stroke="#c8282c" stroke-width="2.7"><rect x="1846.0" y="626.8" width="30.3" height="31.2"/></g>
<g fill="#fff" stroke="#c8282c" stroke-width="2.7"><rect x="2231.8" y="666.7" width="30.3" height="31.2"/></g>
<g fill="#fff" stroke="#c8282c" stroke-width="2.7"><rect x="1839.3" y="677.8" width="30.3" height="31.2"/></g>
<g fill="#fff" stroke="#c8282c" stroke-width="2.7"><rect x="2003.3" y="689.0" width="30.3" height="31.2"/></g>
<g fill="#fff" stroke="#c8282c" stroke-width="2.7"><rect x="2161.3" y="817.4" width="30.3" height="31.2"/></g>
<g fill="#fff" stroke="#c8282c" stroke-width="2.7"><rect x="2583.7" y="789.8" width="30.3" height="31.2"/></g>
<g fill="#fff" stroke="#2c4a9a" stroke-width="3.3" stroke-linejoin="round"><path d="M1859.2 189.0L1879.8 225.9H1838.7Z"/></g>
<g fill="#fff" stroke="#2c4a9a" stroke-width="3.3" stroke-linejoin="round"><path d="M1940.1 360.1L1960.6 397.0H1919.5Z"/></g>
<g fill="#fff" stroke="#2c4a9a" stroke-width="3.3" stroke-linejoin="round"><path d="M1924.9 407.3L1945.5 444.2H1904.4Z"/></g>
<g fill="#fff" stroke="#2c4a9a" stroke-width="3.3" stroke-linejoin="round"><path d="M2040.1 420.3L2060.7 457.2H2019.5Z"/></g>
<g fill="#fff" stroke="#2c4a9a" stroke-width="3.3" stroke-linejoin="round"><path d="M2130.5 420.3L2151.1 457.2H2109.9Z"/></g>
<g fill="#fff" stroke="#2c4a9a" stroke-width="3.3" stroke-linejoin="round"><path d="M2261.1 251.3L2281.7 288.2H2240.5Z"/></g>
<g fill="#fff" stroke="#2c4a9a" stroke-width="3.3" stroke-linejoin="round"><path d="M2261.1 293.1L2281.7 330.0H2240.5Z"/></g>
<g fill="#fff" stroke="#2c4a9a" stroke-width="3.3" stroke-linejoin="round"><path d="M2261.1 317.4L2281.7 354.3H2240.5Z"/></g>
<g fill="#fff" stroke="#2c4a9a" stroke-width="3.3" stroke-linejoin="round"><path d="M2261.1 369.2L2281.7 406.1H2240.5Z"/></g>
<g fill="#fff" stroke="#2c4a9a" stroke-width="3.3" stroke-linejoin="round"><path d="M2261.1 388.3L2281.7 425.2H2240.5Z"/></g>
<g fill="#fff" stroke="#2c4a9a" stroke-width="3.3" stroke-linejoin="round"><path d="M1813.2 441.2L1833.8 478.1H1792.7Z"/></g>
<g fill="#fff" stroke="#2c4a9a" stroke-width="3.3" stroke-linejoin="round"><path d="M1855.0 547.1L1875.5 584.0H1834.5Z"/></g>
<g fill="#fff" stroke="#2c4a9a" stroke-width="3.3" stroke-linejoin="round"><path d="M2102.7 477.2L2123.2 514.1H2082.1Z"/></g>
<g fill="#fff" stroke="#2c4a9a" stroke-width="3.3" stroke-linejoin="round"><path d="M2040.1 494.6L2060.7 531.5H2019.5Z"/></g>
<g fill="#fff" stroke="#2c4a9a" stroke-width="3.3" stroke-linejoin="round"><path d="M2040.1 513.1L2060.7 550.0H2019.5Z"/></g>
<g fill="#fff" stroke="#2c4a9a" stroke-width="3.3" stroke-linejoin="round"><path d="M2040.1 571.3L2060.7 608.2H2019.5Z"/></g>
<g fill="#fff" stroke="#2c4a9a" stroke-width="3.3" stroke-linejoin="round"><path d="M2040.1 562.6L2060.7 599.5H2019.5Z"/></g>
<g fill="#fff" stroke="#2c4a9a" stroke-width="3.3" stroke-linejoin="round"><path d="M2102.7 556.8L2123.2 593.7H2082.1Z"/></g>
<g fill="#fff" stroke="#2c4a9a" stroke-width="3.3" stroke-linejoin="round"><path d="M2087.7 543.8L2108.2 580.7H2067.1Z"/></g>
<g fill="#fff" stroke="#2c4a9a" stroke-width="3.3" stroke-linejoin="round"><path d="M2130.5 527.7L2151.1 564.6H2109.9Z"/></g>
<g fill="#fff" stroke="#2c4a9a" stroke-width="3.3" stroke-linejoin="round"><path d="M2130.5 551.0L2151.1 587.9H2109.9Z"/></g>
<g fill="#fff" stroke="#2c4a9a" stroke-width="3.3" stroke-linejoin="round"><path d="M2130.5 590.8L2151.1 627.7H2109.9Z"/></g>
<g fill="#fff" stroke="#2c4a9a" stroke-width="3.3" stroke-linejoin="round"><path d="M2130.5 604.4L2151.1 641.3H2109.9Z"/></g>
<g fill="#fff" stroke="#2c4a9a" stroke-width="3.3" stroke-linejoin="round"><path d="M2059.3 671.8L2079.9 708.7H2038.8Z"/></g>
<g fill="#fff" stroke="#2c4a9a" stroke-width="3.3" stroke-linejoin="round"><path d="M2091.4 668.5L2112.0 705.4H2070.8Z"/></g>
<g fill="#fff" stroke="#2c4a9a" stroke-width="3.3" stroke-linejoin="round"><path d="M2051.6 691.5L2072.2 728.4H2031.0Z"/></g>
<g fill="#fff" stroke="#2c4a9a" stroke-width="3.3" stroke-linejoin="round"><path d="M2289.7 682.4L2310.2 719.3H2269.1Z"/></g>
<g fill="#fff" stroke="#c8282c" stroke-width="2.7"><rect x="559.1" y="1025.1" width="30.3" height="31.2"/><rect x="1743.6" y="1019.6" width="30.3" height="31.2"/></g>
<g fill="#fff" stroke="#2c4a9a" stroke-width="3.3" stroke-linejoin="round"><path d="M574.1 1078.0L594.6 1114.9H553.6Z"/><path d="M1758.5 1071.4L1779.0 1108.3H1738.0Z"/></g>
<line x1="541" y1="494.5" x2="1597.5" y2="494.5" stroke="#000" stroke-width="2.7" stroke-dasharray="4.2 8.8"/>
<line x1="1736" y1="477.7" x2="2801" y2="477.7" stroke="#000" stroke-width="2.7" stroke-dasharray="4.2 8.8"/>
<rect x="1802" y="430" width="4.5" height="2.6" fill="#000"/>
<path d="M627.2 492.2 L638.4 488.1 L649.7 484.1 L660.9 480.3 L672.1 476.7 L683.4 473.1 L694.6 469.8 L705.8 466.5 L717.1 463.5 L728.3 460.5 L739.5 457.8 L750.8 455.1 L762.0 452.7 L773.2 450.3 L784.5 448.1 L795.7 446.1 L806.9 444.2 L818.2 442.5 L829.4 440.9 L840.6 439.5 L851.9 438.2 L863.1 437.0 L874.3 436.0 L885.6 435.2 L896.8 434.5 L908.0 434.0 L919.3 433.6 L930.5 433.3 L941.7 433.2 L953.0 433.2 L964.2 433.4 L975.4 433.8 L986.7 434.3 L997.9 434.9 L1009.1 435.7 L1020.4 436.6 L1031.6 437.7 L1042.8 439.0 L1054.1 440.3 L1065.3 441.9 L1076.5 443.6 L1087.7 445.4 L1099.0 447.4 L1110.2 449.5 L1121.4 451.8 L1132.7 454.2 L1143.9 456.8 L1155.1 459.5 L1166.4 462.4 L1177.6 465.4 L1188.8 468.5 L1200.1 471.8 L1211.3 475.3 L1222.5 478.9 L1233.8 482.7 L1245.0 486.6 L1256.2 490.6 L1267.5 494.9 L1278.7 499.2 L1289.9 503.7 L1301.2 508.4 L1312.4 513.2 L1323.6 518.1 L1334.9 523.2 L1346.1 528.5 L1357.3 533.8 L1368.6 539.4 L1379.8 545.1 L1391.0 550.9 L1402.3 556.9 L1413.5 563.0 L1424.7 569.3 L1436.0 575.8 L1447.2 582.4 L1458.4 589.1 L1469.7 596.0 L1480.9 603.0 L1492.1 610.2 L1503.4 617.5 L1514.6 625.0" fill="none" stroke="#c8303e" stroke-width="2.4"/>
<path d="M627.2 507.8 L638.4 503.4 L649.7 499.2 L660.9 495.2 L672.2 491.3 L683.4 487.5 L694.6 483.9 L705.9 480.4 L717.1 477.1 L728.4 474.0 L739.6 471.0 L750.8 468.1 L762.1 465.4 L773.3 462.9 L784.6 460.5 L795.8 458.2 L807.0 456.1 L818.3 454.2 L829.5 452.4 L840.8 450.7 L852.0 449.2 L863.3 447.9 L874.5 446.7 L885.7 445.6 L897.0 444.8 L908.2 444.0 L919.5 443.4 L930.7 443.0 L941.9 442.7 L953.2 442.5 L964.4 442.5 L975.7 442.7 L986.9 443.0 L998.1 443.5 L1009.4 444.1 L1020.6 444.8 L1031.9 445.7 L1043.1 446.8 L1054.3 448.0 L1065.6 449.4 L1076.8 450.9 L1088.1 452.6 L1099.3 454.4 L1110.5 456.3 L1121.8 458.4 L1133.0 460.7 L1144.3 463.1 L1155.5 465.7 L1166.7 468.4 L1178.0 471.3 L1189.2 474.3 L1200.5 477.5 L1211.7 480.8 L1222.9 484.3 L1234.2 487.9 L1245.4 491.6 L1256.7 495.6 L1267.9 499.6 L1279.1 503.9 L1290.4 508.2 L1301.6 512.8 L1312.9 517.4 L1324.1 522.3 L1335.4 527.2 L1346.6 532.4 L1357.8 537.6 L1369.1 543.1 L1380.3 548.6 L1391.6 554.4 L1402.8 560.2 L1414.0 566.3 L1425.3 572.4 L1436.5 578.8 L1447.8 585.3 L1459.0 591.9 L1470.2 598.7 L1481.5 605.6 L1492.7 612.7 L1504.0 619.9 L1515.2 627.3" fill="none" stroke="#4a4a4d" stroke-width="2.4"/>
<path d="M1839.3 466.4 L1850.1 462.0 L1860.8 457.8 L1871.6 453.8 L1882.4 449.8 L1893.2 446.0 L1903.9 442.2 L1914.7 438.6 L1925.5 435.1 L1936.2 431.7 L1947.0 428.5 L1957.8 425.3 L1968.6 422.3 L1979.3 419.4 L1990.1 416.6 L2000.9 413.9 L2011.6 411.3 L2022.4 408.9 L2033.2 406.5 L2043.9 404.3 L2054.7 402.2 L2065.5 400.2 L2076.3 398.4 L2087.0 396.6 L2097.8 395.0 L2108.6 393.5 L2119.3 392.1 L2130.1 390.8 L2140.9 389.6 L2151.7 388.6 L2162.4 387.6 L2173.2 386.8 L2184.0 386.1 L2194.7 385.5 L2205.5 385.1 L2216.3 384.7 L2227.1 384.5 L2237.8 384.4 L2248.6 384.4 L2259.4 384.5 L2270.1 384.7 L2280.9 385.1 L2291.7 385.5 L2302.4 386.1 L2313.2 386.8 L2324.0 387.6 L2334.8 388.6 L2345.5 389.6 L2356.3 390.8 L2367.1 392.1 L2377.8 393.5 L2388.6 395.0 L2399.4 396.6 L2410.2 398.4 L2420.9 400.2 L2431.7 402.2 L2442.5 404.3 L2453.2 406.5 L2464.0 408.9 L2474.8 411.3 L2485.6 413.9 L2496.3 416.6 L2507.1 419.4 L2517.9 422.3 L2528.6 425.3 L2539.4 428.5 L2550.2 431.7 L2560.9 435.1 L2571.7 438.6 L2582.5 442.2 L2593.3 446.0 L2604.0 449.8 L2614.8 453.8 L2625.6 457.9 L2636.3 462.1 L2647.1 466.4 L2657.9 470.8 L2668.7 475.4 L2679.4 480.0 L2690.2 484.8" fill="none" stroke="#c8303e" stroke-width="2.4"/>
<path d="M1812.7 352.8 L1818.7 363.0 L1824.8 372.9 L1830.8 382.5 L1836.9 391.9 L1842.9 401.1 L1848.9 410.0 L1855.0 418.7 L1861.0 427.2 L1867.0 435.3 L1873.1 443.3 L1879.1 451.0 L1885.2 458.4 L1891.2 465.6 L1897.2 472.6 L1903.3 479.3 L1909.3 485.8 L1915.3 492.0 L1921.4 498.0 L1927.4 503.8 L1933.5 509.2 L1939.5 514.5 L1945.5 519.5 L1951.6 524.3 L1957.6 528.8 L1963.6 533.0 L1969.7 537.1 L1975.7 540.8 L1981.8 544.4 L1987.8 547.7 L1993.8 550.7 L1999.9 553.5 L2005.9 556.1 L2012.0 558.4 L2018.0 560.4 L2024.0 562.2 L2030.1 563.8 L2036.1 565.1 L2042.1 566.2 L2048.2 567.1 L2054.2 567.7 L2060.3 568.0 L2066.3 568.1 L2072.3 568.0 L2078.4 567.6 L2084.4 566.9 L2090.4 566.1 L2096.5 564.9 L2102.5 563.6 L2108.6 562.0 L2114.6 560.1 L2120.6 558.0 L2126.7 555.7 L2132.7 553.1 L2138.8 550.2 L2144.8 547.1 L2150.8 543.8 L2156.9 540.2 L2162.9 536.4 L2168.9 532.3 L2175.0 528.0 L2181.0 523.5 L2187.1 518.7 L2193.1 513.6 L2199.1 508.4 L2205.2 502.8 L2211.2 497.0 L2217.2 491.0 L2223.3 484.7 L2229.3 478.2 L2235.4 471.5 L2241.4 464.5 L2247.4 457.2 L2253.5 449.7 L2259.5 442.0 L2265.5 434.0 L2271.6 425.8 L2277.6 417.3 L2283.7 408.6 L2289.7 399.6" fill="none" stroke="#2f55a3" stroke-width="2.4"/>
</svg>
</body></html>
